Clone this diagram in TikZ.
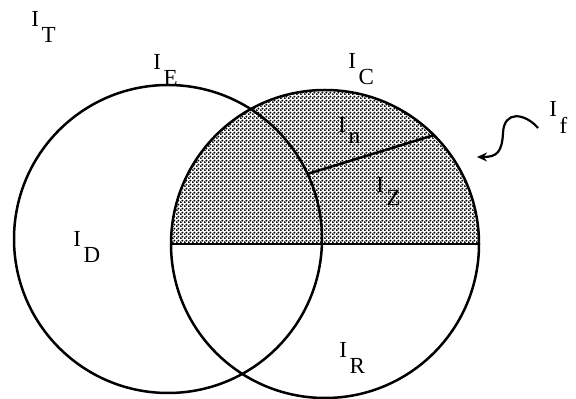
\documentclass[tikz,border=0pt]{standalone}
\usepackage{fontspec}
\setmainfont{Liberation Serif}
\usetikzlibrary{patterns,arrows.meta}
\newcommand{\ilab}[2][0.66em]{I\kern0.12em\raisebox{-#1}{#2}}
\pgfdeclarepatternformonly{screendots}{\pgfpointorigin}{\pgfpoint{4pt}{4pt}}{\pgfpoint{4pt}{4pt}}{
  \pgfpathcircle{\pgfpoint{1pt}{1pt}}{1.3pt}
  \pgfpathcircle{\pgfpoint{3pt}{3pt}}{1.3pt}
  \pgfusepath{fill}}

\begin{document}
\begin{tikzpicture}[x=1pt, y=1pt, line width=2.5pt,
  every node/.style={font=\fontsize{23}{25}\selectfont, inner sep=0pt, anchor=base west},
  ring/.style={draw, circle, minimum size=308pt, outer sep=0pt, anchor=center}]
  \useasboundingbox (0,0) rectangle (576,399);
  % shaded upper half of the right set
  \fill[pattern=screendots] (171,155) arc[start angle=180, end angle=0, radius=154] -- cycle;
  \node[ring] (e) at (168,160) {};
  \node[ring] (c) at (325,155) {};
  \draw (c.west) -- (c.east);
  \draw (e.25.8) -- (c.45.8);
  % labels
  \node (lt) at (30,372) {\ilab{T}};
  \node (le) at (152,329) {\ilab{E}};
  \node (lc) at (347,330) {\ilab{C}};
  \node (ld) at (72,152) {\ilab{D}};
  \node (lr) at (338,41) {\ilab{R}};
  \node (ln) at (337,266) {\ilab[0.45em]{n}};
  \node (lz) at (375,206) {\ilab[0.55em]{Z}};
  \node (lf) at (548,282) {\ilab[0.7em]{f}};
  % incoming arrow
  \coordinate (fs) at (538,271);
  \coordinate (ft) at (477,242);
  \draw[line width=2.2pt, -{Stealth[length=10pt, width=9pt]}] (fs) .. controls (525,286) and (504,289) .. (503,266) .. controls (502,247) and (497,242) .. (ft);
\end{tikzpicture}
\end{document}
